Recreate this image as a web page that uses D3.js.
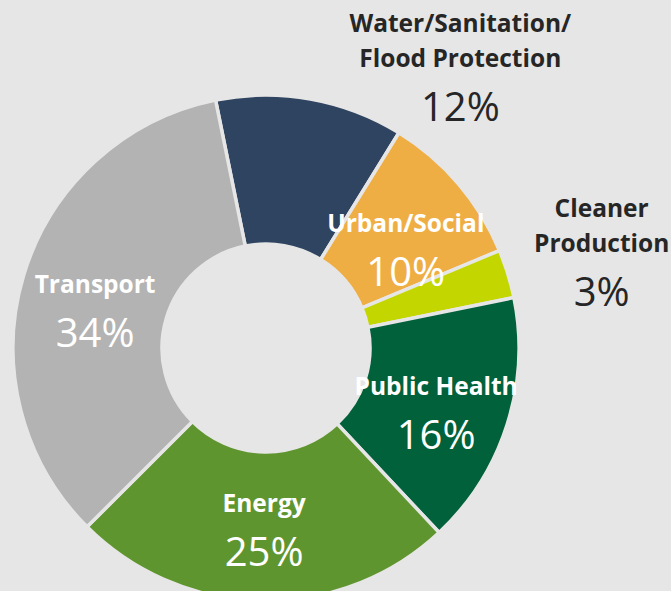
<!DOCTYPE html>
<html>
<head>
<meta charset="utf-8">
<script src="https://cdn.jsdelivr.net/npm/d3@7"></script>
<style>
  html, body { margin: 0; padding: 0; background: #e7e6e6; }
  svg { display: block; }
</style>
</head>
<body>
<div id="chart"></div>
<script>
// slices, clockwise from the one that starts just left of 12 o'clock
var categories = ["Water/Sanitation/\nFlood Protection", "Urban/Social", "Cleaner\nProduction",
                  "Public Health", "Energy", "Transport"];
var shares = [12.0, 9.9, 3.1, 16.2, 24.5, 34.3];
var colors = ["#2e4461", "#efae43", "#c4d600", "#00613a", "#5f952f", "#b3b3b3"];
var outside = [true, false, true, false, false, false];   // label sits outside the ring

// nudges from the slice centroid to the baseline of the name's last line
var nudges = [[163, -105], [4, 0], [165, -44], [0, -7], [1, -14], [0, -4]];

var width = 671, height = 591;
var cx = 266, cy = 348, rOut = 253, rIn = 104;
var font = "'Open Sans', Lato, sans-serif";

var svg = d3.select("#chart").append("svg")
    .attr("width", width)
    .attr("height", height);

var g = svg.append("g").attr("transform", "translate(" + cx + "," + cy + ")");

var start = -11.5 * Math.PI / 180;
var pie = d3.pie()
    .sort(null)
    .startAngle(start)
    .endAngle(start + 2 * Math.PI)
    .value(function(d) { return d; });

var arc = d3.arc().innerRadius(rIn).outerRadius(rOut);
var mid = d3.arc().innerRadius((rIn + rOut) / 2).outerRadius((rIn + rOut) / 2);

var arcs = pie(shares);

g.selectAll("path.slice")
  .data(arcs)
  .enter().append("path")
    .attr("class", "slice")
    .attr("d", arc)
    .attr("fill", function(d, i) { return colors[i]; })
    .attr("stroke", "#e7e6e6")
    .attr("stroke-width", 3.5)
    .attr("stroke-linejoin", "miter");

var lab = g.selectAll("g.lab")
  .data(arcs)
  .enter().append("g")
    .attr("class", "lab")
    .attr("transform", function(d, i) {
      var c = mid.centroid(d);
      return "translate(" + (c[0] + nudges[i][0]) + "," + (c[1] + nudges[i][1]) + ")";
    });

lab.each(function(d, i) {
  var el = d3.select(this);
  var lines = categories[i].split("\n");
  var fill = outside[i] ? "#262626" : "#ffffff";
  var top = -(lines.length - 1) * 35;
  lines.forEach(function(t, k) {
    el.append("text")
      .attr("x", 0)
      .attr("y", top + k * 35)
      .attr("text-anchor", "middle")
      .attr("font-family", font)
      .attr("font-weight", "bold")
      .attr("font-size", 24.5)
      .attr("fill", fill)
      .text(t);
  });
  el.append("text")
    .attr("x", 0)
    .attr("y", 54)
    .attr("text-anchor", "middle")
    .attr("font-family", font)
    .attr("font-size", 40)
    .attr("fill", fill)
    .text(Math.round(shares[i]) + "%");
});
</script>
</body>
</html>
